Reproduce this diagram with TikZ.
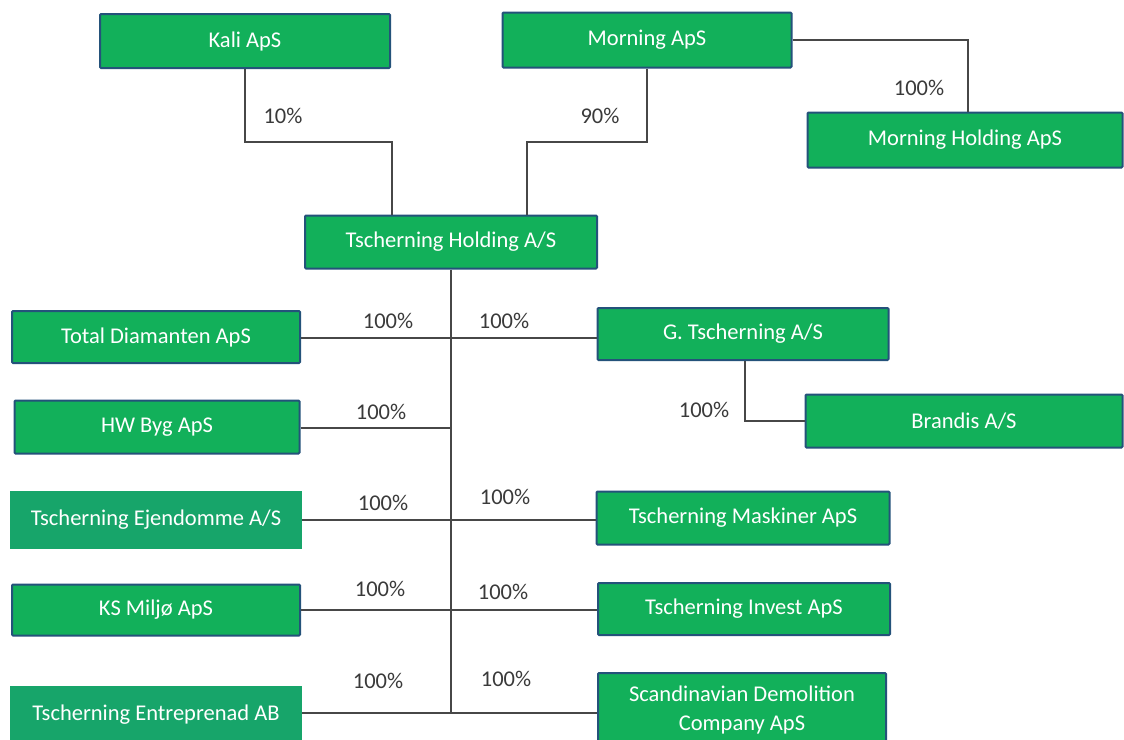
\documentclass[tikz,border=0pt]{standalone}
\usepackage{fontspec}
\setmainfont{Carlito}
\definecolor{boxgreen}{HTML}{12B05A}
\definecolor{boxgreenb}{HTML}{17A56A}
\definecolor{boxborder}{HTML}{24527A}
\definecolor{linegray}{HTML}{474747}
\definecolor{labgray}{HTML}{3A3A3A}
\tikzset{
  cbox/.style={draw=boxborder, line width=2pt, fill=boxgreen, text=white,
    font=\fontsize{22.5}{27}\selectfont, align=center, inner sep=0pt, rounded corners=1pt},
  cboxflat/.style={fill=boxgreenb, text=white,
    font=\fontsize{22.5}{27}\selectfont, align=center, inner sep=0pt},
  conn/.style={draw=linegray, line width=1.8pt},
  pct/.style={text=labgray, font=\fontsize{22.5}{27}\selectfont, inner sep=0pt}
}
\begin{document}
\begin{tikzpicture}[x=1pt,y=-1pt]
\useasboundingbox (0,0) rectangle (1124,739);
\clip (0,0) rectangle (1124,739);
\fill[white] (0,0) rectangle (1124,739);

% boxes
\node[cbox, minimum width=290pt, minimum height=54pt] (kali) at (245,41) {Kali ApS};
\node[cbox, minimum width=289pt, minimum height=55pt] (morning) at (647,40) {Morning ApS};
\node[cbox, minimum width=315pt, minimum height=55pt] (mholding) at (965,140) {Morning Holding ApS};
\node[cbox, minimum width=292pt, minimum height=53pt] (holding) at (451,242) {Tscherning Holding A/S};
\node[cbox, minimum width=288pt, minimum height=52pt] (total) at (156,337) {Total Diamanten ApS};
\node[cbox, minimum width=291pt, minimum height=52pt] (gtsch) at (743,334) {G. Tscherning A/S};
\node[cbox, minimum width=285pt, minimum height=53pt] (hw) at (157,427) {HW Byg ApS};
\node[cbox, minimum width=317pt, minimum height=53pt] (brandis) at (964,421) {Brandis A/S};
\node[cboxflat, minimum width=292pt, minimum height=58pt] (ejendomme) at (156,520) {Tscherning Ejendomme A/S};
\node[cbox, minimum width=293pt, minimum height=53pt] (maskiner) at (743,518) {Tscherning Maskiner ApS};
\node[cbox, minimum width=288pt, minimum height=51pt] (ks) at (156,610) {KS Miljø ApS};
\node[cbox, minimum width=292pt, minimum height=52pt] (invest) at (744,609) {Tscherning Invest ApS};
\node[cboxflat, minimum width=292pt, minimum height=58pt] (entre) at (156,715) {Tscherning Entreprenad AB};
\node[cbox, minimum width=288pt, minimum height=74pt, font=\fontsize{22.5}{29}\selectfont] (scandi) at (742,710) {Scandinavian Demolition\\Company ApS};

% coordinates
\coordinate (k1) at (245,142);
\coordinate (k2) at (392,142);
\coordinate (m1) at (647,142);
\coordinate (m2) at (527,142);
\coordinate (mh) at (968,40);
\coordinate (tb) at (451,713);
\coordinate (j1) at (451,338);
\coordinate (j2) at (451,428);
\coordinate (j3) at (451,520);
\coordinate (j4) at (451,610);
\coordinate (g1) at (745,421);

% connectors
\draw[conn] (kali.south) -- (k1) -- (k2) -- (k2 |- holding.north);
\draw[conn] (morning.south) -- (m1) -- (m2) -- (m2 |- holding.north);
\draw[conn] (morning.east) -- (mh) -- (mh |- mholding.north);
\draw[conn] (holding.south) -- (tb);
\draw[conn] (total.east |- j1) -- (gtsch.west |- j1);
\draw[conn] (hw.east |- j2) -- (j2);
\draw[conn] (ejendomme.east |- j3) -- (maskiner.west |- j3);
\draw[conn] (ks.east |- j4) -- (invest.west |- j4);
\draw[conn] (entre.east |- tb) -- (scandi.west |- tb);
\draw[conn] (gtsch.south -| g1) -- (g1) -- (brandis.west |- g1);

% labels
\node[pct] (l1) at (283,116) {10\%};
\node[pct] (l2) at (600,116) {90\%};
\node[pct] (l3) at (919,88) {100\%};
\node[pct] (l4) at (388,321) {100\%};
\node[pct] (l5) at (504,321) {100\%};
\node[pct] (l6) at (381,412) {100\%};
\node[pct] (l7) at (704,410) {100\%};
\node[pct] (l8) at (383,503) {100\%};
\node[pct] (l9) at (505,497) {100\%};
\node[pct] (l10) at (380,589) {100\%};
\node[pct] (l11) at (503,592) {100\%};
\node[pct] (l12) at (378,681) {100\%};
\node[pct] (l13) at (506,679) {100\%};
\end{tikzpicture}
\end{document}
